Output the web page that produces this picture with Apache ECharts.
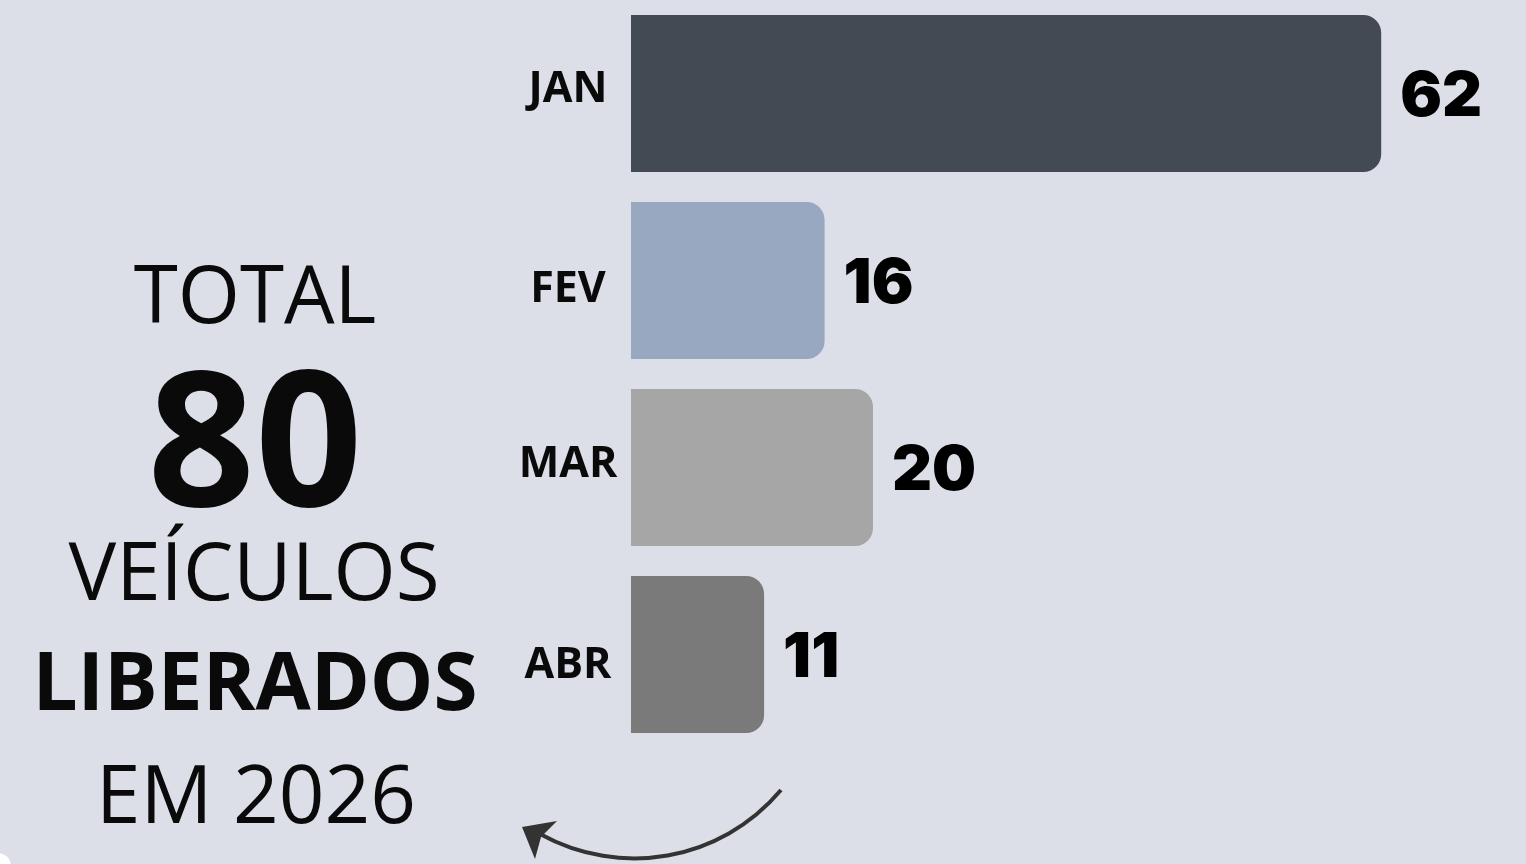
<!DOCTYPE html>
<html>
<head>
<meta charset="utf-8">
<script src="https://cdn.jsdelivr.net/npm/echarts@6/dist/echarts.min.js"></script>
<style>
  html, body { margin: 0; padding: 0; background: #dcdfe7; }
  #chart { width: 1526px; height: 864px; }
</style>
</head>
<body>
<div id="chart"></div>
<script>
// dados
const months = ['JAN', 'FEV', 'MAR', 'ABR']
const values = [62, 16, 20, 11]
const barColors = ['#434a53', '#97a8c0', '#a6a6a6', '#7a7a7a']

const chart = echarts.init(document.getElementById('chart'))

// estilo de texto dos meses (cada um levemente deslocado, como no original)
const monthFont = { color: '#0a0a0a', fontFamily: 'Open Sans', fontWeight: 'bold', fontSize: 43 }
const monthRich = {
  m0: { ...monthFont, padding: [0, 0, 8, 0] },
  m1: { ...monthFont, padding: [18, 0, 0, 0] },
  m2: { ...monthFont, padding: [0, 0, 6, 0] },
  m3: { ...monthFont, padding: [22, 0, 0, 0] }
}

const option = {
  backgroundColor: '#dcdfe7',
  animation: false,
  grid: { left: 631, top: 0, height: 748, right: 48 },
  xAxis: {
    type: 'value',
    min: 0,
    max: 70,
    show: false
  },
  yAxis: {
    type: 'category',
    data: months,
    inverse: true,
    axisLine: { show: false },
    axisTick: { show: false },
    axisLabel: {
      align: 'center',
      margin: 63,
      formatter: (v, i) => `{m${i}|${v}}`,
      rich: monthRich,
      ...monthFont
    }
  },
  series: [{
    type: 'bar',
    data: values.map((v, i) => ({ value: v, itemStyle: { color: barColors[i] } })),
    barCategoryGap: '16%',
    itemStyle: { borderRadius: [0, 18, 18, 0] },
    label: {
      show: true,
      position: 'right',
      distance: 19,
      offset: [0, 4],
      color: '#000',
      fontFamily: 'Inter',
      fontWeight: 900,
      fontSize: 62
    }
  }],
  graphic: [
    {
      type: 'text', x: 255, y: 300,
      style: { text: 'TOTAL', fill: '#0a0a0a', font: '80px "Open Sans"', align: 'center', verticalAlign: 'middle' }
    },
    {
      type: 'text', x: 255, y: 452,
      style: { text: '80', fill: '#0a0a0a', font: 'bold 188px "Open Sans"', align: 'center', verticalAlign: 'middle' }
    },
    {
      type: 'text', x: 254, y: 577,
      style: { text: 'VEÍCULOS', fill: '#0a0a0a', font: '80px "Open Sans"', align: 'center', verticalAlign: 'middle' }
    },
    {
      type: 'text', x: 255, y: 687,
      style: { text: 'LIBERADOS', fill: '#0a0a0a', font: 'bold 80px "Open Sans"', align: 'center', verticalAlign: 'middle' }
    },
    {
      type: 'text', x: 256, y: 800,
      style: { text: 'EM 2026', fill: '#0a0a0a', font: '80px "Open Sans"', align: 'center', verticalAlign: 'middle' }
    },
    // seta curva
    {
      type: 'bezierCurve',
      shape: { x1: 781, y1: 790, cpx1: 720, cpy1: 862, cpx2: 620, cpy2: 878, x2: 540, y2: 834 },
      style: { stroke: '#333', lineWidth: 4, fill: null }
    },
    {
      type: 'polygon',
      shape: { points: [[522, 827], [557, 821], [541, 837], [535, 859]] },
      style: { fill: '#333' }
    },
    {
      type: 'circle',
      shape: { cx: -2, cy: 866, r: 13 },
      style: { fill: '#ffffff' }
    }
  ]
}

chart.setOption(option)
</script>
</body>
</html>
